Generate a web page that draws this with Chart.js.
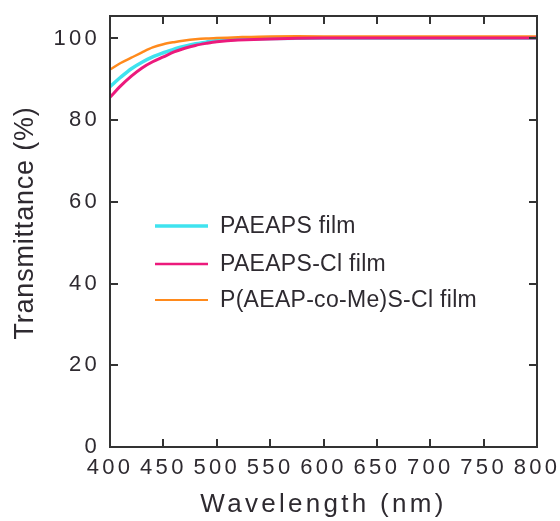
<!DOCTYPE html>
<html>
<head>
<meta charset="utf-8">
<script src="https://cdn.jsdelivr.net/npm/chart.js@4.4.1/dist/chart.umd.min.js"></script>
<style>
  html, body { margin: 0; padding: 0; background: #fff; }
  #wrap { width: 560px; height: 521px; }
</style>
</head>
<body>
<div id="wrap"><canvas id="chart"></canvas></div>
<script>
/* ---- data ---- */
const wavelengths = [400, 410, 420, 430, 440, 450, 460, 470, 480, 490, 500,
  520, 550, 600, 650, 700, 750, 800];
const paeapsFilm = [88.2, 90.5, 92.6, 94.2, 95.5, 96.5, 97.4, 98.1, 98.7, 99.1, 99.5,
  99.8, 100.0, 100.1, 100.1, 100.1, 100.1, 100.1];
const paeapsClFilm = [85.6, 88.4, 90.8, 92.8, 94.3, 95.5, 96.7, 97.6, 98.3, 98.8, 99.2,
  99.6, 99.9, 100.1, 100.1, 100.1, 100.1, 100.1];
const coMeClFilm = [92.4, 94.0, 95.3, 96.6, 97.8, 98.6, 99.1, 99.5, 99.8, 100.0, 100.1,
  100.3, 100.5, 100.5, 100.5, 100.5, 100.5, 100.5];
const seriesNames = ['PAEAPS film', 'PAEAPS-Cl film', 'P(AEAP-co-Me)S-Cl film'];
const xTicks = [400, 450, 500, 550, 600, 650, 700, 750, 800];
const yTicks = [0, 20, 40, 60, 80, 100];

/* ---- look ---- */
const COLORS = ['#3fe3ef', '#ec1a7c', '#ff8a1c'];
const INK = '#2e2a30';
const FONT = 'Arial, "Liberation Sans", sans-serif';

/* frame, inward ticks, legend, y title */
const framePlugin = {
  id: 'frame',
  beforeDraw(chart) {
    chart.ctx.letterSpacing = '3.3px';
  },
  afterDatasetsDraw(chart) {
    const { ctx, chartArea: a, scales: { x, y } } = chart;
    ctx.save();
    ctx.letterSpacing = '0px';
    ctx.strokeStyle = '#333';
    ctx.lineWidth = 2;
    ctx.strokeRect(a.left, a.top, a.right - a.left, a.bottom - a.top);
    ctx.beginPath();
    const len = 8;
    xTicks.forEach(v => {
      const px = Math.round(x.getPixelForValue(v));
      ctx.moveTo(px, a.bottom); ctx.lineTo(px, a.bottom - len);
      ctx.moveTo(px, a.top);    ctx.lineTo(px, a.top + len);
    });
    yTicks.forEach(v => {
      const py = Math.round(y.getPixelForValue(v));
      ctx.moveTo(a.left, py);  ctx.lineTo(a.left + len, py);
      ctx.moveTo(a.right, py); ctx.lineTo(a.right - len, py);
    });
    ctx.stroke();

    /* legend */
    const rows = [226, 264, 300];
    const widths = [3.5, 2.5, 2];
    ctx.font = '23px ' + FONT;
    ctx.letterSpacing = '0.3px';
    ctx.textBaseline = 'middle';
    ctx.fillStyle = INK;
    chart.data.datasets.forEach((ds, i) => {
      ctx.strokeStyle = ds.borderColor;
      ctx.lineWidth = widths[i];
      ctx.beginPath();
      ctx.moveTo(155, rows[i]);
      ctx.lineTo(208, rows[i]);
      ctx.stroke();
      ctx.fillText(ds.label, 220, rows[i] + 1);
    });

    /* y axis title */
    ctx.font = '27px ' + FONT;
    ctx.letterSpacing = '0.8px';
    ctx.textAlign = 'center';
    ctx.translate(26, 223);
    ctx.rotate(-Math.PI / 2);
    ctx.fillText('Transmittance (%)', 0, 0);
    ctx.restore();
  }
};

const noPad = s => { s.paddingLeft = s.paddingRight = s.paddingTop = s.paddingBottom = 0; };

new Chart(document.getElementById('chart'), {
  type: 'line',
  data: {
    labels: wavelengths,
    datasets: [
      { label: seriesNames[0], data: paeapsFilm, borderColor: COLORS[0], borderWidth: 3.5, order: 2 },
      { label: seriesNames[1], data: paeapsClFilm, borderColor: COLORS[1], borderWidth: 3, order: 0 },
      { label: seriesNames[2], data: coMeClFilm, borderColor: COLORS[2], borderWidth: 2.5, order: 1 },
    ].map(d => ({ ...d, pointRadius: 0, tension: 0.3, fill: false })),
  },
  plugins: [framePlugin],
  options: {
    responsive: true,
    maintainAspectRatio: false,
    animation: false,
    layout: { padding: { top: 16, right: 23, left: 0, bottom: 0 } },
    plugins: { legend: { display: false }, tooltip: { enabled: false } },
    scales: {
      x: {
        type: 'linear',
        min: 400, max: 800,
        afterBuildTicks: s => { s.ticks = xTicks.map(v => ({ value: v })); },
        afterFit: s => { s.height = 74; noPad(s); },
        grid: { display: false, drawTicks: false },
        border: { display: false },
        ticks: { color: INK, padding: 8, maxRotation: 0, font: { family: FONT, size: 22 } },
        title: {
          display: true, text: 'Wavelength (nm)', color: INK,
          font: { family: FONT, size: 26 }, padding: { top: 0, bottom: 1 },
        },
      },
      y: {
        min: 0, max: 105.5,
        afterBuildTicks: s => { s.ticks = yTicks.map(v => ({ value: v })); },
        afterFit: s => { s.width = 110; noPad(s); },
        grid: { display: false, drawTicks: false },
        border: { display: false },
        ticks: { color: INK, padding: 10, font: { family: FONT, size: 22 } },
      },
    },
  },
});
</script>
</body>
</html>
